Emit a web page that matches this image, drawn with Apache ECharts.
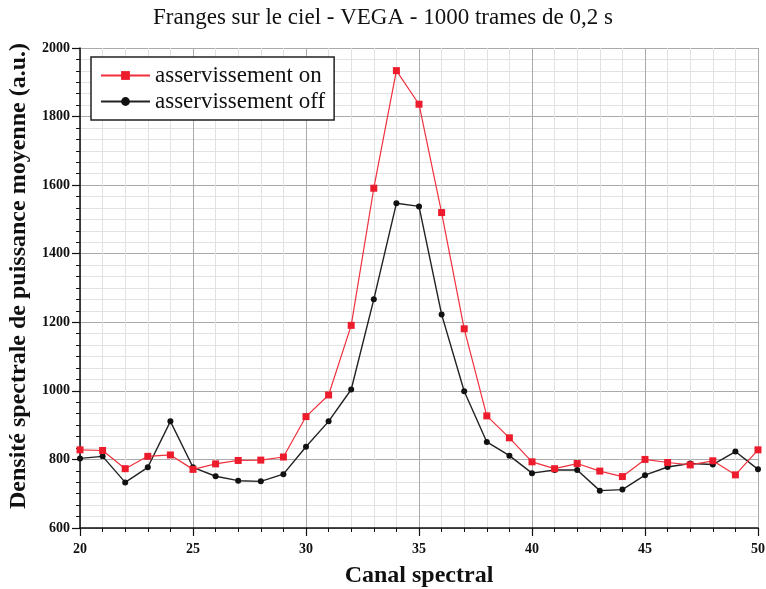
<!DOCTYPE html>
<html>
<head>
<meta charset="utf-8">
<script src="https://cdn.jsdelivr.net/npm/echarts@6/dist/echarts.min.js"></script>
<style>html,body{margin:0;padding:0;background:#fff;}#c{width:766px;height:589px;}</style>
</head>
<body>
<div id="c"></div>
<script>
var channels = [20,21,22,23,24,25,26,27,28,29,30,31,32,33,34,35,36,37,38,39,40,41,42,43,44,45,46,47,48,49,50];
var servoOn  = [828,826,773,809,813,771,787,797,798,807,925,988,1191,1591,1934,1836,1520,1181,927,863,793,773,788,766,750,800,791,784,796,755,828];
var servoOff = [803,809,733,777,911,777,751,738,736,757,837,911,1004,1267,1547,1538,1223,999,851,811,760,769,769,709,712,754,778,788,785,823,771];
var xTicks = [20,25,30,35,40,45,50];
var yTicks = [600,800,1000,1200,1400,1600,1800,2000];

function pairs(xs, ys){ return xs.map(function(x,i){ return [x, ys[i]]; }); }

var serif = 'Liberation Serif';
var chart = echarts.init(document.getElementById('c'), null, {renderer:'canvas'});
chart.setOption({
  animation:false,
  backgroundColor:'#fff',
  title:{
    text:'Franges sur le ciel - VEGA - 1000 trames de 0,2 s',
    left:'center', top:1,
    textStyle:{fontFamily:serif, fontWeight:'normal', fontSize:23, color:'#111'}
  },
  legend:{
    orient:'vertical', left:91, top:57,
    padding:[7,9,7,9],
    itemWidth:49, itemHeight:11, itemGap:3,
    borderColor:'#222', borderWidth:1.5, backgroundColor:'#fff',
    textStyle:{fontFamily:serif, fontSize:23, color:'#111'},
    data:['asservissement on','asservissement off']
  },
  grid:{left:80, right:8, top:48, bottom:61, outerBoundsMode:'none', containLabel:false},
  xAxis:{
    type:'value', min:xTicks[0], max:xTicks[xTicks.length-1], interval:5,
    name:'Canal spectral', nameLocation:'middle', nameGap:36,
    nameTextStyle:{fontFamily:serif, fontWeight:'bold', fontSize:24, color:'#111'},
    axisLine:{lineStyle:{color:'#111', width:1.5}},
    axisTick:{show:true, length:8, inside:false, lineStyle:{color:'#111', width:1.2}},
    minorTick:{show:true, splitNumber:5, length:4, lineStyle:{color:'#111', width:1}},
    axisLabel:{fontFamily:serif, fontWeight:'bold', fontSize:14, color:'#111', margin:14},
    splitLine:{show:true, lineStyle:{color:'#aaa', width:1}},
    minorSplitLine:{show:true, lineStyle:{color:'#e2e2e2', width:1}}
  },
  yAxis:{
    type:'value', min:yTicks[0], max:yTicks[yTicks.length-1], interval:200,
    name:'Densité spectrale de puissance moyenne (a.u.)', nameLocation:'middle', nameGap:42,
    nameTextStyle:{fontFamily:serif, fontWeight:'bold', fontSize:24, color:'#111', padding:[0,0,0,24]},
    axisLine:{show:true, lineStyle:{color:'#111', width:1.5}},
    axisTick:{show:true, length:8, lineStyle:{color:'#111', width:1.2}},
    minorTick:{show:true, splitNumber:6, length:4, lineStyle:{color:'#111', width:1}},
    axisLabel:{fontFamily:serif, fontWeight:'bold', fontSize:14, color:'#111', margin:10,
      formatter:function(v){ return String(v); }},
    splitLine:{show:true, lineStyle:{color:'#aaa', width:1}},
    minorSplitLine:{show:true, lineStyle:{color:'#e2e2e2', width:1}}
  },
  series:[
    {
      name:'asservissement on', type:'line', data:pairs(channels, servoOn),
      symbol:'rect', symbolSize:7, showAllSymbol:true,
      lineStyle:{color:'#f0303c', width:1.2},
      itemStyle:{color:'#ec1c2c'}, z:3
    },
    {
      name:'asservissement off', type:'line', data:pairs(channels, servoOff),
      symbol:'circle', symbolSize:6, showAllSymbol:true,
      lineStyle:{color:'#222', width:1.4},
      itemStyle:{color:'#111'}, z:2
    }
  ]
});
</script>
</body>
</html>
